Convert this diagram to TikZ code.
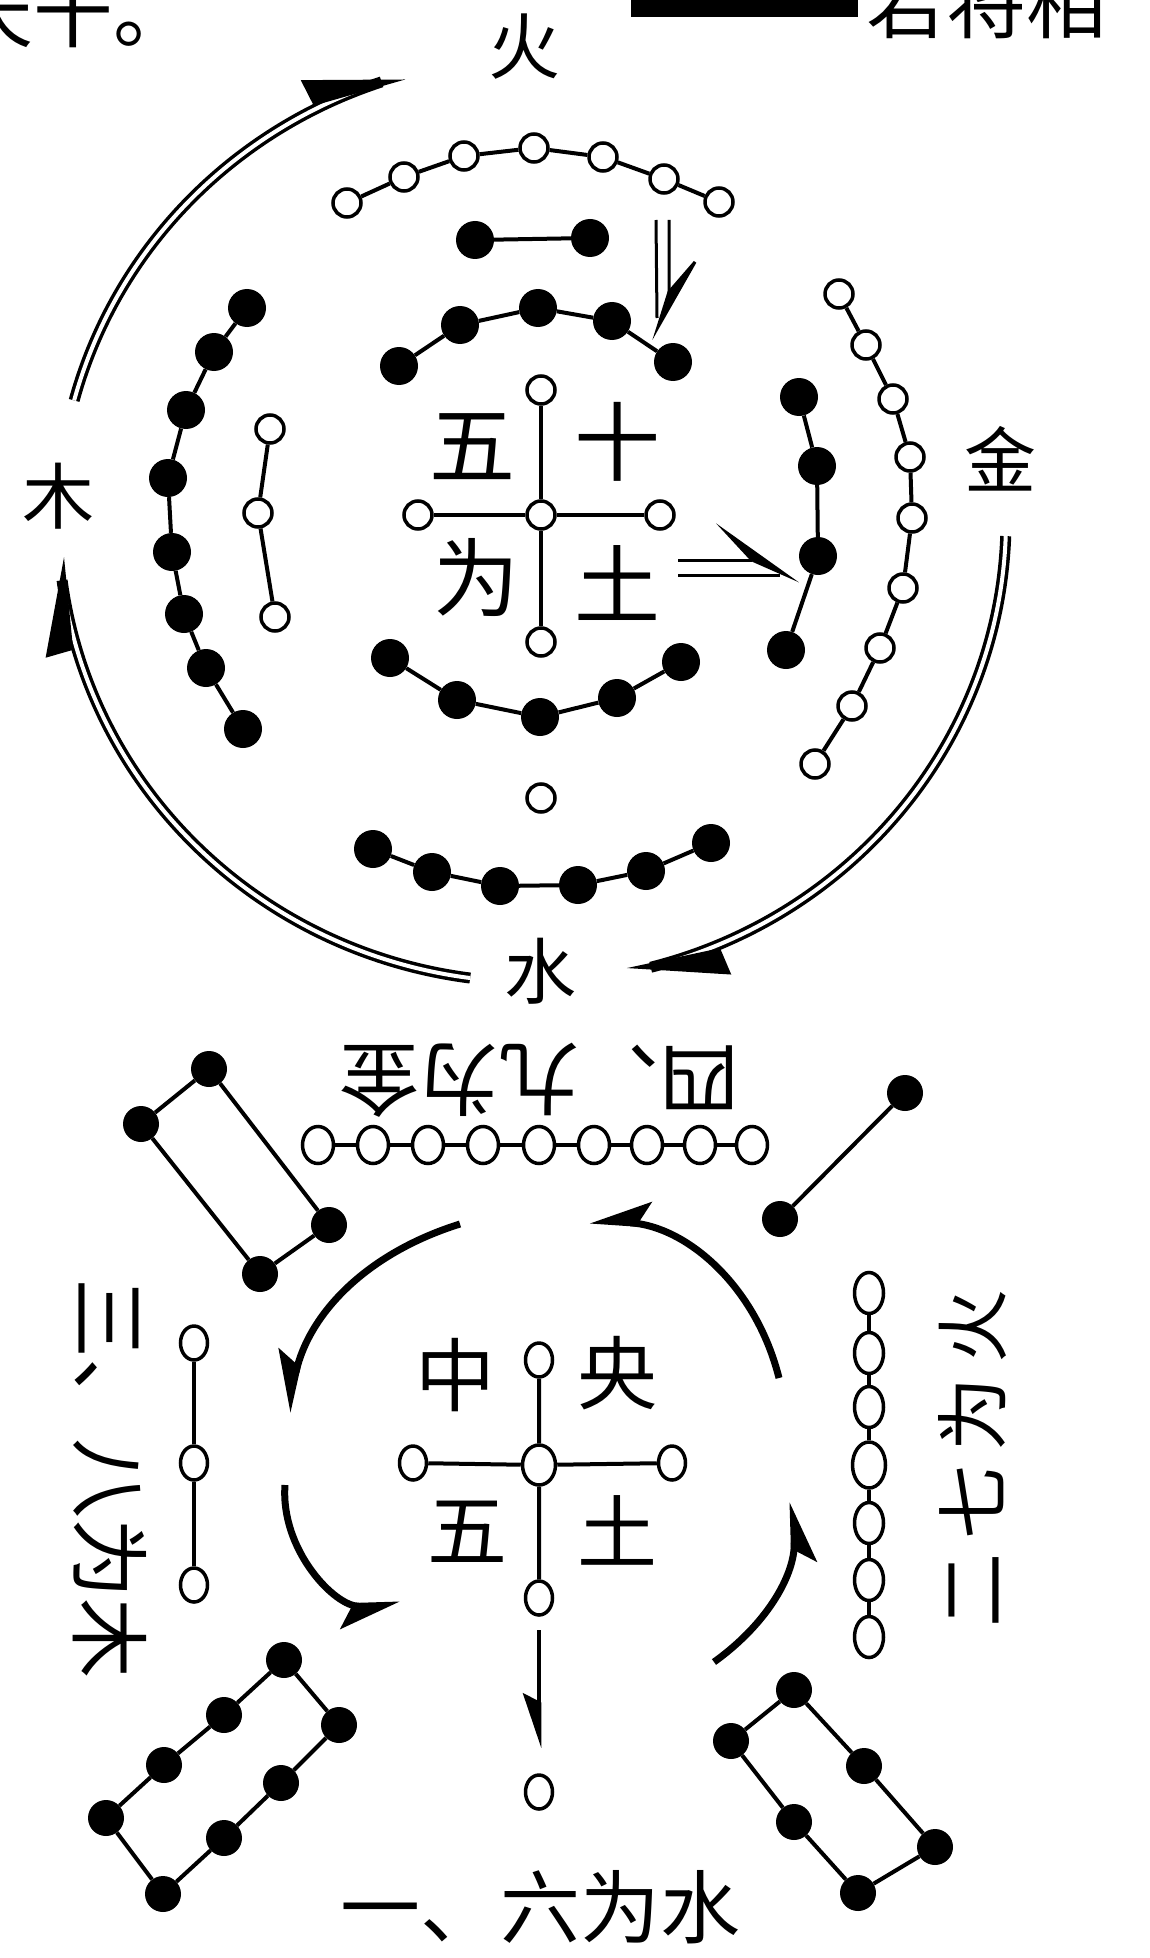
\documentclass[tikz,border=0pt]{standalone}
\usepackage{fontspec}
\newfontfamily\cjk{Noto Sans CJK SC}
\usetikzlibrary{arrows.meta,shapes.geometric}
\begin{document}
\begin{tikzpicture}[x=1pt,y=-1pt,
  oc/.style={circle,draw,line width=3.5pt,fill=white,minimum size=28pt,inner sep=0pt},
  bd/.style={circle,fill=black,minimum size=38pt,inner sep=0pt},
  ov/.style={ellipse,draw,line width=3.5pt,fill=white,minimum width=27pt,minimum height=34pt,inner sep=0pt},
  bl/.style={circle,fill=black,minimum size=36pt,inner sep=0pt},
  lk/.style={line width=4pt},
  dbl/.style={double,line width=3.5pt,double distance=4pt},
  hd/.style={line width=3pt,line join=miter},
  carc/.style={line width=7pt,-{Stealth[harpoon,swap,length=52pt,width=44pt,inset=12pt]}},
  lab/.style={font=\cjk\fontsize{72}{72}\selectfont,inner sep=0pt},
  big/.style={font=\cjk\fontsize{86}{86}\selectfont,inner sep=0pt},
  mid/.style={font=\cjk\fontsize{80}{80}\selectfont,inner sep=0pt}]
\useasboundingbox (0,0) rectangle (1150,1958);
\fill[white] (0,0) rectangle (1150,1958);

% cropped page text at top
\node[mid,anchor=base west] (txa) at (-47,42) {天干。};
\fill (631,-4) rectangle (858,17);
\node[mid,anchor=base west] (txb) at (866,33) {若将相};

% ---------------- upper figure ----------------
\coordinate (C) at (532,520);
\node[lab] (huo) at (524,47) {火};
\node[lab] (jin) at (1000,459) {金};
\node[lab] (mu) at (58,496) {木};
\node[lab] (shui) at (540,971) {水};

\foreach \s/\e in {-165/-107, 2/77, 97.5/174} {
  \draw[dbl] ([shift={(C)}]\s:474 and 462) arc[start angle=\s, end angle=\e-1.5, x radius=474, y radius=462];
  \filldraw[hd] ([shift={(C)}]\e:471 and 459) -- ([shift={(C)}]\e-10:504 and 492) -- ([shift={(C)}]\e-10:479 and 467) -- cycle;
}

% top open chain (7)
\foreach \i/\p in {1/{(347,203)},2/{(404,177)},3/{(464,156)},4/{(534,148)},5/{(603,157)},6/{(664,179)},7/{(719,202)}}
  \node[oc] (t\i) at \p {};
\draw[lk] (t1)--(t2)--(t3)--(t4)--(t5)--(t6)--(t7);

% black pair
\node[bd] (p1) at (475,240) {};
\node[bd] (p2) at (590,238) {};
\draw[lk] (p1)--(p2);

% upper black 5
\foreach \i/\p in {1/{(399,366)},2/{(460,325)},3/{(538,308)},4/{(612,321)},5/{(673,362)}}
  \node[bd] (u\i) at \p {};
\draw[lk] (u1)--(u2)--(u3)--(u4)--(u5);

% central cross
\node[oc] (ct) at (541,390) {};
\node[oc] (cc) at (541,515) {};
\node[oc] (cl) at (418,515) {};
\node[oc] (cr) at (660,515) {};
\node[oc] (cb) at (541,642) {};
\draw[lk] (ct)--(cc)--(cb) (cl)--(cc)--(cr);
\node[big] (wu1) at (472,447) {五};
\node[big] (shi1) at (617,442) {十};
\node[big] (wei1) at (476,578) {为};
\node[big] (tu1) at (617,583) {土};

% lower black 5
\foreach \i/\p in {1/{(390,658)},2/{(457,700)},3/{(540,717)},4/{(617,698)},5/{(681,662)}}
  \node[bd] (w\i) at \p {};
\draw[lk] (w1)--(w2)--(w3)--(w4)--(w5);

% single open
\node[oc] (s1) at (541,798) {};

% black 6
\foreach \i/\p in {1/{(373,849)},2/{(432,872)},3/{(500,886)},4/{(578,885)},5/{(646,871)},6/{(711,843)}}
  \node[bd] (v\i) at \p {};
\draw[lk] (v1)--(v2)--(v3)--(v4)--(v5)--(v6);

% left black 8
\foreach \i/\p in {1/{(247,308)},2/{(214,352)},3/{(186,410)},4/{(168,478)},5/{(172,552)},6/{(184,614)},7/{(206,668)},8/{(243,729)}}
  \node[bd] (L\i) at \p {};
\draw[lk] (L1)--(L2)--(L3)--(L4)--(L5)--(L6)--(L7)--(L8);

% left open 3
\node[oc] (lo1) at (270,429) {};
\node[oc] (lo2) at (258,513) {};
\node[oc] (lo3) at (275,617) {};
\draw[lk] (lo1)--(lo2)--(lo3);

% right black 4
\foreach \i/\p in {1/{(799,397)},2/{(817,466)},3/{(818,556)},4/{(786,650)}}
  \node[bd] (R\i) at \p {};
\draw[lk] (R1)--(R2)--(R3)--(R4);

% right open 9
\foreach \i/\p in {1/{(839,294)},2/{(866,345)},3/{(893,399)},4/{(910,457)},5/{(912,518)},6/{(903,588)},7/{(880,648)},8/{(852,706)},9/{(815,764)}}
  \node[oc] (ro\i) at \p {};
\draw[lk] (ro1)--(ro2)--(ro3)--(ro4)--(ro5)--(ro6)--(ro7)--(ro8)--(ro9);

% inner double arrows
\draw[hd] (656,220) -- (657,318) (669,220) -- (669,296);
\filldraw[hd] (658,327) -- (695,262) -- (669,292) -- cycle;
\draw[hd] (678,560) -- (752,560) (678,575) -- (780,575);
\filldraw[hd] (752,560) -- (727,533) -- (786,575) -- cycle;

% ---------------- lower figure ----------------
\node[mid,rotate=180] (sijiu) at (539,1080) {四、九为金};
\foreach \i/\x in {1/318,2/373,3/428,4/483,5/539,6/594,7/647,8/700,9/752}
  \node[ov,minimum width=31pt,minimum height=37pt] (n\i) at (\x,1145) {};
\draw[lk] (n1)--(n2)--(n3)--(n4)--(n5)--(n6)--(n7)--(n8)--(n9);

% top-left rectangle (4)
\node[bl] (q1) at (209,1069) {};
\node[bl] (q2) at (141,1124) {};
\node[bl] (q3) at (260,1274) {};
\node[bl] (q4) at (329,1225) {};
\draw[lk] (q1)--(q2)--(q3)--(q4)--(q1);

% top-right line (2)
\node[bl] (h1) at (905,1093) {};
\node[bl] (h2) at (780,1219) {};
\draw[lk] (h1)--(h2);

% central cross
\node[ov] (dt) at (539,1360) {};
\node[ov,minimum width=33pt,minimum height=40pt] (dc) at (539,1465) {};
\node[ov] (dl) at (413,1463) {};
\node[ov] (dr) at (672,1463) {};
\node[ov] (db) at (539,1598) {};
\draw[lk] (dt)--(dc)--(db) (dl)--(dc)--(dr);
\node[mid] (zhong) at (455,1375) {中};
\node[mid] (yang) at (617,1373) {央};
\node[mid] (wu2) at (467,1532) {五};
\node[mid] (tu2) at (617,1530) {土};

% curved arrows
\coordinate (a1s) at (779,1378); \coordinate (a1e) at (590,1220);
\coordinate (a2s) at (460,1224); \coordinate (a2e) at (287,1412);
\coordinate (a3s) at (285,1485); \coordinate (a3e) at (400,1605);
\coordinate (a4s) at (714,1662); \coordinate (a4e) at (793,1502);
\draw[carc] (a1s) to[bend right=36] (a1e);
\draw[carc] (a2s) to[bend right=30] (a2e);
\draw[carc] (a3s) to[bend right=48] (a3e);
\draw[carc] (a4s) to[bend right=28] (a4e);

% left chain 3 and text
\node[ov] (m1) at (194,1343) {};
\node[ov] (m2) at (194,1463) {};
\node[ov] (m3) at (194,1585) {};
\draw[lk] (m1)--(m2)--(m3);
\node[mid,rotate=-90] (sanba) at (110,1478) {三、八为木};

% right chain 7 and text
\foreach \i/\y in {1/1293,2/1353,3/1407,5/1523,6/1580,7/1637}
  \node[ov,minimum width=29pt,minimum height=41pt] (k\i) at (869,\y) {};
\node[ov,minimum width=33pt,minimum height=46pt] (k4) at (869,1465) {};
\draw[lk] (k1)--(k2)--(k3)--(k4)--(k5)--(k6)--(k7);
\node[font=\cjk\fontsize{74}{74}\selectfont,inner sep=0pt,rotate=90] (erqi) at (972,1458) {二\hspace{14pt}七\hspace{14pt}为\hspace{14pt}火};

% downward arrow and single circle
\coordinate (da) at (539,1630);
\coordinate (dd) at (539,1748);
\draw[line width=4.5pt,-{Stealth[harpoon,swap,length=48pt,width=32pt,inset=8pt]}] (da) -- (dd);
\node[ov] (e1) at (539,1792) {};
\node[mid] (yiliu) at (540,1907) {一、六为水};

% bottom-left rectangle (8)
\foreach \i/\p in {1/{(284,1660)},2/{(224,1715)},3/{(164,1765)},4/{(106,1818)},5/{(163,1894)},6/{(224,1838)},7/{(281,1783)},8/{(339,1725)}}
  \node[bl] (g\i) at \p {};
\draw[lk] (g1)--(g2)--(g3)--(g4)--(g5)--(g6)--(g7)--(g8)--(g1);

% bottom-right rectangle (6)
\foreach \i/\p in {1/{(794,1690)},2/{(731,1741)},3/{(794,1822)},4/{(858,1893)},5/{(935,1847)},6/{(864,1766)}}
  \node[bl] (f\i) at \p {};
\draw[lk] (f1)--(f2)--(f3)--(f4)--(f5)--(f6)--(f1);
\end{tikzpicture}
\end{document}
